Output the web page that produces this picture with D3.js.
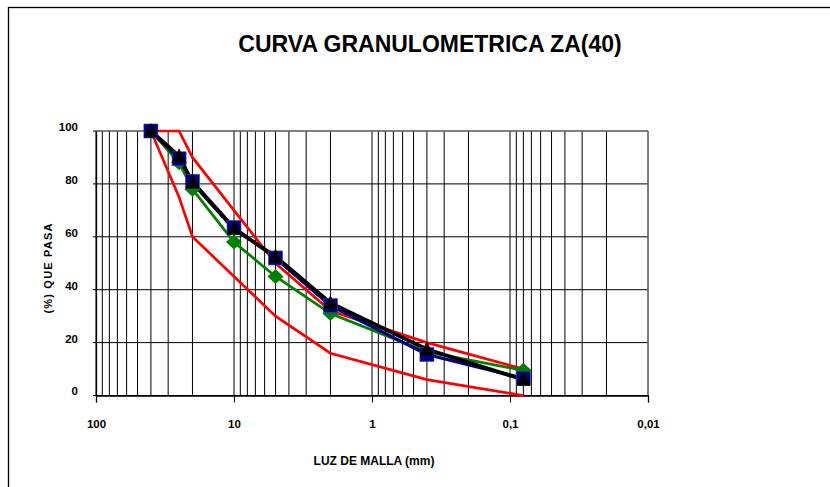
<!DOCTYPE html>
<html>
<head>
<meta charset="utf-8">
<script src="https://cdn.jsdelivr.net/npm/d3@7"></script>
<style>
  html, body { margin: 0; padding: 0; background: #fff; }
  svg { display: block; }
  text { font-family: "Liberation Sans", Arial, sans-serif; font-weight: bold; fill: #000; }
</style>
</head>
<body>
<svg id="chart" width="830" height="487"></svg>
<script>
// ---- Data ----
const sizes = [40, 25, 20, 10, 5, 2, 0.4, 0.08];           // luz de malla (mm)
const upperLimit = [100, 100, 90, 70, 50, 32, 20, 10];      // huso superior
const lowerLimit = [100, 75, 60, 45, 30, 16, 6, 0];         // huso inferior
const muestraVerde = [100, 88, 78, 58, 45, 31, 16.5, 9.5];
const muestraAzul  = [100, 89.5, 81, 63.5, 52, 34, 15.5, 6.5];
const muestraNegra = [100, 90.5, 80.5, 63, 52.5, 35, 17.5, 6];
const xTickValues = [100, 10, 1, 0.1, 0.01];
const xTickLabels = ["100", "10", "1", "0,1", "0,01"];
const yTickValues = [0, 20, 40, 60, 80, 100];
const title = "CURVA GRANULOMETRICA ZA(40)";
const xTitle = "LUZ DE MALLA (mm)";
const yTitle = "(%) QUE PASA";

// ---- Layout ----
const svg = d3.select("#chart");
const plot = { left: 96, right: 648, top: 131, bottom: 395.5 };

const x = d3.scaleLog().domain([100, 0.01]).range([plot.left, plot.right]);
const y = d3.scaleLinear().domain([0, 100]).range([plot.bottom, plot.top]);

// outer chart border
svg.append("rect")
  .attr("x", 8.5).attr("y", 7.5).attr("width", 900).attr("height", 600)
  .attr("fill", "none").attr("stroke", "#000").attr("stroke-width", 1.3);

// title
svg.append("text")
  .attr("x", 430).attr("y", 52)
  .attr("text-anchor", "middle")
  .style("font-size", "23px")
  .text(title);

// vertical grid (log minor + major)
const gridX = [];
[0.01, 0.1, 1, 10].forEach(d => { for (let k = 1; k <= 9; k++) gridX.push(+(k * d).toPrecision(3)); });
gridX.push(100);
const g = svg.append("g");
g.selectAll("line.vgrid").data(gridX).join("line")
  .attr("class", "vgrid")
  .attr("x1", d => x(d)).attr("x2", d => x(d))
  .attr("y1", plot.top).attr("y2", plot.bottom)
  .attr("stroke", "#000").attr("stroke-width", 1);

// horizontal grid
g.selectAll("line.hgrid").data(yTickValues).join("line")
  .attr("class", "hgrid")
  .attr("x1", plot.left - 3).attr("x2", plot.right)
  .attr("y1", d => y(d)).attr("y2", d => y(d))
  .attr("stroke", "#000").attr("stroke-width", 1);

// plot border (top/right gray)
svg.append("line").attr("x1", plot.left).attr("x2", plot.right).attr("y1", plot.top).attr("y2", plot.top)
  .attr("stroke", "#808080").attr("stroke-width", 1.2);
svg.append("line").attr("x1", plot.right).attr("x2", plot.right).attr("y1", plot.top).attr("y2", plot.bottom)
  .attr("stroke", "#808080").attr("stroke-width", 1.2);

// axes
const xAxis = d3.axisBottom(x).tickValues(xTickValues).tickFormat((d, i) => xTickLabels[i]).tickSize(7).tickPadding(17);
const gx = svg.append("g").attr("transform", `translate(0,${plot.bottom})`).call(xAxis);
gx.select(".domain").attr("stroke", "#000").attr("stroke-width", 1.3);
gx.selectAll(".tick line").attr("stroke", "#000");
gx.selectAll(".tick text").style("font-size", "11.5px").style("font-family", "'Liberation Sans', Arial, sans-serif").style("font-weight", "bold");

const yAxis = d3.axisLeft(y).tickValues(yTickValues).tickSize(0).tickPadding(18);
const gy = svg.append("g").attr("transform", `translate(${plot.left},0)`).call(yAxis);
gy.select(".domain").attr("stroke", "#000").attr("stroke-width", 1.3);
gy.selectAll(".tick text").attr("dy", "-0.05em").style("font-size", "11.5px").style("font-family", "'Liberation Sans', Arial, sans-serif").style("font-weight", "bold");

// axis titles
svg.append("text")
  .attr("x", 374).attr("y", 465)
  .attr("text-anchor", "middle")
  .style("font-size", "12px")
  .text(xTitle);
svg.append("text")
  .attr("transform", `translate(52,268) rotate(-90)`)
  .attr("text-anchor", "middle")
  .style("font-size", "11px")
  .style("letter-spacing", "1.2px")
  .text(yTitle);

// lines
const line = d3.line().x(d => x(d[0])).y(d => y(d[1]));
const zipData = vals => sizes.map((s, i) => [s, vals[i]]);
const series = [
  { vals: lowerLimit, color: "#ff0000", width: 2.7 },
  { vals: upperLimit, color: "#ff0000", width: 2.7 },
  { vals: muestraVerde, color: "#008000", width: 2.7 },
  { vals: muestraAzul, color: "#000080", width: 3.2 },
  { vals: muestraNegra, color: "#000000", width: 3.8 }
];
const lg = svg.append("g");
series.forEach(s => {
  lg.append("path").datum(zipData(s.vals))
    .attr("d", line).attr("fill", "none")
    .attr("stroke", s.color).attr("stroke-width", s.width)
    .attr("stroke-linejoin", "miter");
});

// markers
const mg = svg.append("g");
mg.selectAll("path.dia").data(zipData(muestraVerde)).join("path")
  .attr("class", "dia")
  .attr("transform", d => `translate(${x(d[0])},${y(d[1])})`)
  .attr("d", "M0,-7.5 L8,0 L0,7.5 L-8,0 Z")
  .attr("fill", "#008000");
mg.selectAll("rect.sq").data(zipData(muestraAzul)).join("rect")
  .attr("class", "sq")
  .attr("x", d => x(d[0]) - 7).attr("y", d => y(d[1]) - 7)
  .attr("width", 14).attr("height", 14)
  .attr("fill", "#000080").attr("stroke", "#4040a8").attr("stroke-width", 0.6);
mg.selectAll("path.tri").data(zipData(muestraNegra)).join("path")
  .attr("class", "tri")
  .attr("transform", d => `translate(${x(d[0])},${y(d[1])})`)
  .attr("d", "M0,-8 L7,6 L-7,6 Z")
  .attr("fill", "#000");
</script>
</body>
</html>
